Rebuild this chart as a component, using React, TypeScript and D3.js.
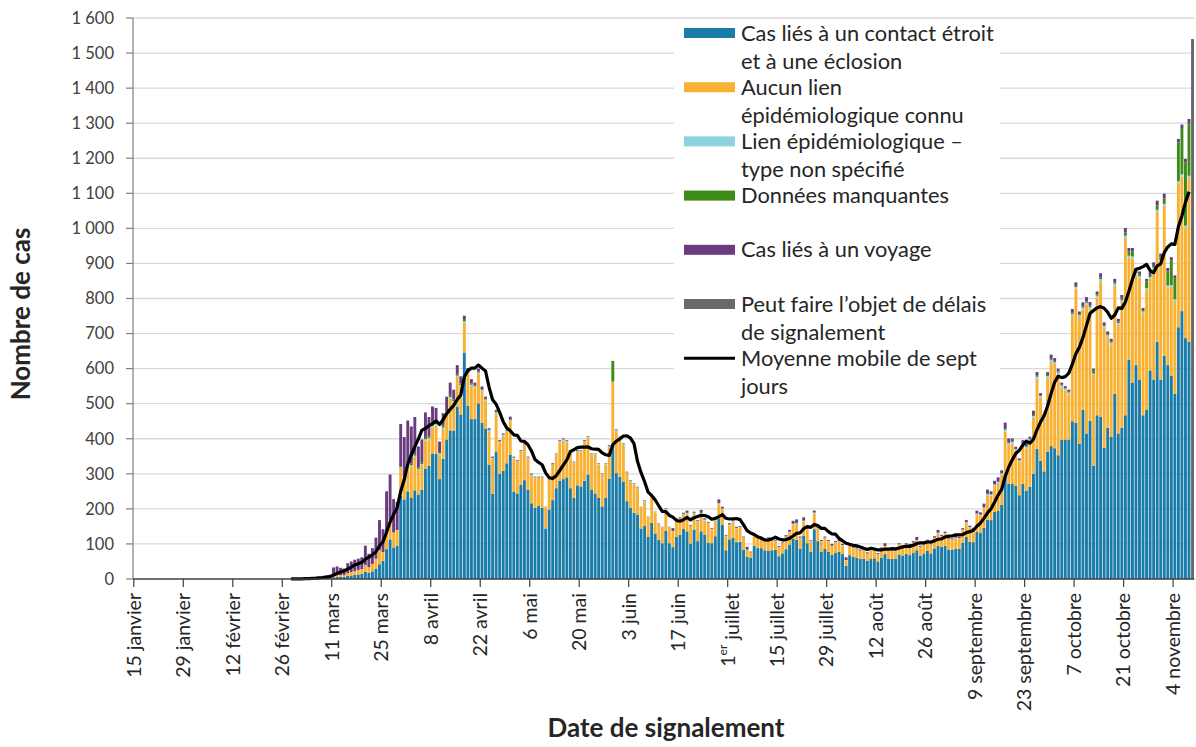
import React from "react";
import * as d3 from "d3";

// ---- DATA (one value per day, starting 26 février 2020) ----
const startDate = "2020-02-26";

const contact = [
  0,0,0,0,1,0,1,1,1,1,1,2,2,2,
  5,6,6,6,9,10,12,13,15,20,18,22,30,42,
  52,85,113,90,95,237,227,250,231,253,241,255,315,323,
  358,358,285,343,398,424,423,491,469,646,494,456,456,501,
  446,429,326,243,362,300,309,330,355,249,244,268,282,254,
  216,203,208,203,144,198,225,259,280,285,290,259,231,267,
  264,280,298,254,244,231,207,231,286,382,302,291,278,222,
  203,189,184,144,151,121,160,130,112,102,138,102,91,120,
  126,143,136,101,141,108,136,127,104,102,122,173,154,82,
  113,118,105,106,83,63,60,95,88,88,82,81,82,83,
  65,73,85,98,115,112,87,124,102,78,142,108,77,87,
  77,69,74,77,71,38,68,63,61,58,58,52,57,59,
  50,61,71,57,58,57,70,66,72,68,75,82,66,73,
  80,73,87,95,92,94,84,84,86,86,104,120,106,105,
  134,131,146,169,168,191,194,212,301,272,271,266,239,271,
  252,263,300,371,337,307,363,379,373,353,397,398,397,450,
  446,385,482,415,451,323,467,462,374,431,405,528,415,431,
  467,626,559,610,569,467,482,595,569,677,569,636,610,580,
  528,718,764,687,677,0,
];

const noLink = [
  0,0,0,0,0,0,0,0,0,1,1,1,2,2,
  6,6,5,5,8,10,11,13,13,20,16,21,28,41,
  25,45,55,43,45,80,60,75,90,95,70,70,80,75,
  75,80,70,85,75,90,80,85,80,85,90,95,90,85,
  90,80,95,100,110,90,100,90,95,95,90,95,100,90,
  80,85,80,85,60,90,100,95,110,110,100,105,100,95,
  100,110,105,100,110,95,90,95,90,181,120,110,105,80,
  75,80,75,60,70,55,75,60,45,45,60,45,45,50,
  45,40,50,50,45,55,50,40,55,40,45,40,45,40,
  40,45,40,40,35,20,15,30,30,30,30,35,30,25,
  25,30,35,35,40,45,30,40,40,30,45,35,30,30,
  30,25,30,30,25,15,28,25,25,22,25,20,25,22,
  20,25,22,25,22,22,28,25,25,28,28,28,25,25,
  28,25,30,35,30,35,30,28,30,30,35,40,40,35,
  50,50,55,70,70,75,80,85,120,110,115,100,95,110,
  120,130,160,200,180,150,210,240,240,230,150,140,130,300,
  382,362,287,368,320,259,336,387,342,259,264,308,310,359,
  506,290,355,258,290,291,343,261,314,370,336,428,222,253,
  265,411,384,315,467,0,
];

const unspecified = [
  0,0,0,0,0,0,0,0,0,0,0,0,0,0,
  0,0,0,0,0,0,0,0,0,0,0,0,0,0,
  0,0,0,0,0,2,3,3,3,4,3,3,4,4,
  4,4,3,4,4,5,4,4,4,4,4,3,3,3,
  3,3,3,2,3,2,2,2,3,2,2,2,2,2,
  2,2,2,2,1,2,2,2,3,3,3,2,2,3,
  2,3,3,2,2,2,2,2,3,0,3,3,2,2,
  2,2,2,1,2,1,2,1,1,1,2,1,1,1,
  2,2,2,1,2,2,2,2,1,1,2,3,2,1,
  2,2,1,2,1,1,1,1,1,1,1,1,1,1,
  1,1,1,2,2,2,1,2,2,1,2,2,1,1,
  1,1,1,1,1,1,1,1,1,1,1,1,1,1,
  1,1,1,1,1,1,1,1,1,1,1,1,1,1,
  1,1,1,2,1,2,1,1,2,1,2,2,2,2,
  2,2,3,3,3,3,3,4,5,5,5,4,4,5,
  5,5,5,6,5,5,6,6,6,6,5,5,5,6,
  5,5,5,5,5,4,5,6,5,5,5,6,5,5,
  6,6,6,5,5,5,5,5,5,6,5,6,5,5,
  5,6,6,6,6,0,
];

const missing = [
  0,0,0,0,0,0,0,0,0,0,0,0,0,0,
  0,0,0,0,0,0,0,0,0,0,0,0,0,0,
  0,0,0,0,0,3,5,4,6,5,4,5,6,5,
  5,6,4,6,5,6,5,5,5,4,4,4,3,3,
  2,2,2,1,2,1,1,1,2,1,1,1,1,1,
  1,1,1,1,0,1,1,1,1,1,1,1,1,1,
  1,1,1,1,1,1,1,1,1,59,1,1,1,1,
  1,1,1,0,1,0,1,0,0,0,1,0,0,1,
  1,1,1,0,1,1,1,1,1,0,1,1,1,0,
  1,1,0,1,0,0,0,1,0,0,0,0,0,0,
  0,0,1,0,1,1,0,1,0,0,1,1,0,0,
  0,0,0,0,0,0,0,0,0,0,0,0,0,0,
  0,0,0,0,0,0,0,0,0,0,0,0,0,0,
  0,0,0,0,0,0,0,0,0,0,0,0,0,0,
  1,1,1,1,1,1,1,1,2,2,2,1,1,2,
  2,2,3,3,2,2,3,3,3,3,2,2,2,4,
  3,3,3,4,4,8,4,5,3,3,3,4,4,5,
  10,12,14,6,5,4,18,6,5,12,8,15,40,70,
  60,110,130,180,150,0,
];

const travel = [
  0,0,1,0,1,1,2,1,3,3,4,6,6,8,
  22,24,21,19,28,30,32,32,34,55,38,45,60,85,
  65,120,130,95,80,120,110,120,105,105,60,65,70,55,
  50,40,30,35,38,35,28,25,20,12,10,12,8,8,
  8,6,4,3,5,3,3,2,8,2,2,2,2,2,
  2,1,1,1,1,1,2,1,2,2,2,1,1,2,
  1,2,1,1,1,1,1,1,2,0,1,1,1,1,
  1,1,1,1,1,1,2,1,1,1,1,1,8,1,
  2,3,6,2,3,2,8,3,2,2,3,10,4,2,
  3,2,3,2,2,8,2,3,2,2,3,2,3,2,
  3,2,3,5,8,10,3,9,3,2,5,3,3,3,
  3,5,3,3,3,8,3,3,3,3,2,3,3,2,
  3,3,8,3,3,2,3,3,4,3,4,9,3,3,
  3,3,4,8,3,4,3,3,8,3,4,6,4,4,
  8,6,10,12,8,10,12,8,18,12,8,6,5,8,
  8,6,12,10,6,6,8,12,8,8,6,5,6,10,
  10,8,12,12,10,6,8,12,8,8,8,10,8,10,
  12,10,10,8,8,6,8,10,10,14,10,14,10,10,
  8,10,12,10,12,0,
];

// "Peut faire l'objet de délais de signalement"
const delayedDates = ["2020-11-09"];
const delayedValues = [1540];

const tickDates = [
  "2020-01-15","2020-01-29","2020-02-12","2020-02-26","2020-03-11","2020-03-25",
  "2020-04-08","2020-04-22","2020-05-06","2020-05-20","2020-06-03","2020-06-17",
  "2020-07-01","2020-07-15","2020-07-29","2020-08-12","2020-08-26","2020-09-09",
  "2020-09-23","2020-10-07","2020-10-21","2020-11-04",
];
const tickLabels = [
  "15 janvier","29 janvier","12 février","26 février","11 mars","25 mars",
  "8 avril","22 avril","6 mai","20 mai","3 juin","17 juin",
  "1er juillet","15 juillet","29 juillet","12 août","26 août","9 septembre",
  "23 septembre","7 octobre","21 octobre","4 novembre",
];
const yTicks = [0,100,200,300,400,500,600,700,800,900,1000,1100,1200,1300,1400,1500,1600];

const seriesKeys = ["contact","noLink","unspecified","missing","travel","delayed"];
const seriesColors = ["#1B7CA8","#F8B133","#8DD3DF","#3C8A17","#6A3B7E","#68696C"];
const legendLines = [
  ["Cas liés à un contact étroit","et à une éclosion"],
  ["Aucun lien","épidémiologique connu"],
  ["Lien épidémiologique –","type non spécifié"],
  ["Données manquantes"],
  ["Cas liés à un voyage"],
  ["Peut faire l’objet de délais","de signalement"],
  ["Moyenne mobile de sept","jours"],
];

const FONT = "Lato, 'Open Sans', sans-serif";
const DAY = 86400000;
const parse = (s: string) => { const [y, m, d] = s.split("-").map(Number); return new Date(Date.UTC(y, m - 1, d)); };

export default function App() {
  const W = 1196, H = 747;
  const x = d3.scaleUtc().domain([parse("2020-01-15"), parse("2020-11-10")]).range([133.8, 1194.3]);
  const y = d3.scaleLinear().domain([0, 1600]).range([579, 18]);
  const step = x(parse("2020-01-16")) - x(parse("2020-01-15"));
  const bw = step * 0.82;

  const start = parse(startDate).getTime();
  const delayMap = new Map(delayedDates.map((d, i) => [parse(d).getTime(), delayedValues[i]]));
  const rows = contact.map((_, i) => {
    const t = start + i * DAY;
    return {
      date: new Date(t),
      contact: contact[i], noLink: noLink[i], unspecified: unspecified[i],
      missing: missing[i], travel: travel[i], delayed: delayMap.get(t) || 0,
    };
  });
  const stacked = d3.stack<any>().keys(seriesKeys)(rows);

  const totals = rows.map(r => r.contact + r.noLink + r.unspecified + r.missing + r.travel);
  const lastData = totals.reduce((acc, v, i) => (v > 0 ? i : acc), 0);
  const avg: { date: Date; v: number }[] = [];
  for (let i = 2; i <= lastData; i++) {
    const win = totals.slice(Math.max(0, i - 6), i + 1);
    avg.push({ date: rows[i].date, v: d3.sum(win) / 7 });
  }
  const line = d3.line<{ date: Date; v: number }>()
    .x(d => x(d.date) + step / 2)
    .y(d => y(d.v));

  const fmt = d3.formatLocale({ decimal: ",", thousands: "\u00a0", grouping: [3], currency: ["", ""] }).format(",d");

  const legX = 684, legTextX = 741, legY0 = 33, legStep = 54.2;

  return (
    <svg width={W} height={H} style={{ position: "absolute", left: 0, top: 0, background: "#fff" }} fontFamily={FONT}>
      <rect x={0} y={0} width={W} height={H} fill="#fff" />
      {/* gridlines */}
      {yTicks.filter(t => t > 0).map(t => (
        <line key={t} x1={133} x2={x(parse("2020-11-10"))} y1={y(t)} y2={y(t)} stroke="#D9D9D9" strokeWidth={1.3} />
      ))}
      {/* bars */}
      {stacked.map((s, si) => (
        <g key={s.key} fill={seriesColors[si]}>
          {s.map((d, i) => {
            const h = y(d[0]) - y(d[1]);
            if (h <= 0) return null;
            return <rect key={i} x={x(rows[i].date) + (step - bw) / 2} y={y(d[1])} width={bw} height={h} />;
          })}
        </g>
      ))}
      {/* moving average */}
      <path d={line(avg) || ""} fill="none" stroke="#000" strokeWidth={3.2} strokeLinejoin="round" />
      {/* y axis */}
      <line x1={133} x2={133} y1={18} y2={579} stroke="#7F7F7F" strokeWidth={1.2} />
      {yTicks.map(t => (
        <g key={t}>
          <line x1={126} x2={133} y1={y(t)} y2={y(t)} stroke="#7F7F7F" strokeWidth={1.2} />
          <text x={114} y={y(t)} dy="0.35em" textAnchor="end" fontSize={16.5} fill="#404040">{fmt(t)}</text>
        </g>
      ))}
      {/* x axis */}
      <line x1={133} x2={x(parse("2020-11-10"))} y1={579} y2={579} stroke="#404040" strokeWidth={1.4} />
      {tickDates.map((td, i) => {
        const tx = x(parse(td));
        const lab = tickLabels[i];
        return (
          <g key={td}>
            <line x1={tx} x2={tx} y1={579} y2={587} stroke="#404040" strokeWidth={1.2} />
            <text transform={`translate(${tx},593) rotate(-90)`} textAnchor="end" dy="0.35em" fontSize={19.5} fill="#262626">
              {lab.startsWith("1er") ? (
                <>1<tspan fontSize={12} dy="-0.6em">er</tspan><tspan dy="0.6em">{lab.slice(3)}</tspan></>
              ) : lab}
            </text>
          </g>
        );
      })}
      {/* axis titles */}
      <text transform="translate(30,314) rotate(-90)" textAnchor="middle" fontSize={26} fontWeight="bold" fill="#262626">Nombre de cas</text>
      <text x={666} y={737} textAnchor="middle" fontSize={26} fontWeight="bold" fill="#262626">Date de signalement</text>
      {/* legend */}
      <rect x={674} y={21} width={326} height={380} fill="#fff" />
      {legendLines.map((ls, i) => {
        const cy = legY0 + i * legStep;
        return (
          <g key={i}>
            {i < 6 ? (
              <rect x={legX} y={cy - 5} width={51} height={10} fill={seriesColors[i]} />
            ) : (
              <line x1={legX} x2={legX + 51} y1={cy} y2={cy} stroke="#000" strokeWidth={3} />
            )}
            {ls.map((t, j) => (
              <text key={j} x={legTextX} y={cy + j * 28} dy="0.35em" fontSize={21.8} fill="#262626">{t}</text>
            ))}
          </g>
        );
      })}
    </svg>
  );
}
